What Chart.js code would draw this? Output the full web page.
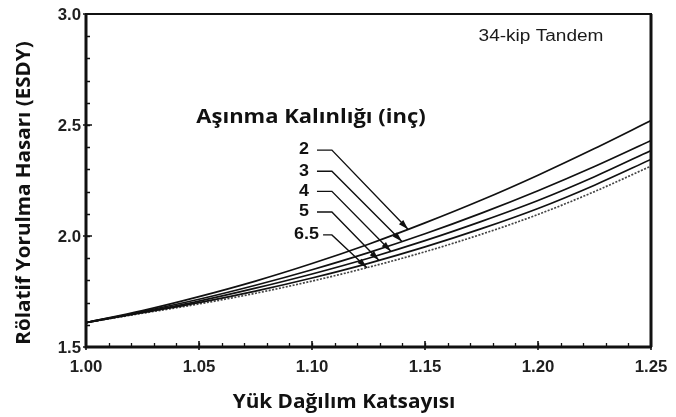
<!DOCTYPE html>
<html>
<head>
<meta charset="utf-8">
<script src="https://cdn.jsdelivr.net/npm/chart.js@4.4.1/dist/chart.umd.min.js"></script>
<style>
  html, body { margin: 0; padding: 0; background: #fff; }
  canvas { display: block; }
</style>
</head>
<body>
<canvas id="chart" width="676" height="417"></canvas>
<script>
// Load distribution factor (x) and relative fatigue damage (ESDY) per overlay thickness
const loadFactor = [1.00, 1.025, 1.05, 1.075, 1.10, 1.125, 1.15, 1.175, 1.20, 1.225, 1.25];
const esdy2   = [1.61, 1.664, 1.727, 1.797, 1.876, 1.963, 2.059, 2.162, 2.274, 2.394, 2.520];
const esdy3   = [1.61, 1.660, 1.715, 1.778, 1.848, 1.925, 2.010, 2.103, 2.204, 2.313, 2.430];
const esdy4   = [1.61, 1.657, 1.707, 1.765, 1.829, 1.900, 1.979, 2.066, 2.160, 2.267, 2.385];
const esdy5   = [1.61, 1.655, 1.700, 1.752, 1.811, 1.877, 1.951, 2.033, 2.124, 2.229, 2.345];
const esdy65  = [1.61, 1.652, 1.694, 1.742, 1.797, 1.859, 1.929, 2.008, 2.097, 2.200, 2.315];
const thicknessLabels = ['2', '3', '4', '5', '6.5'];
const xTickValues = [1.00, 1.05, 1.10, 1.15, 1.20, 1.25];
const xTickLabels = ['1.00', '1.05', '1.10', '1.15', '1.20', '1.25'];
const yTickValues = [1.5, 2.0, 2.5, 3.0];
const yTickLabels = ['1.5', '2.0', '2.5', '3.0'];

const series = [esdy2, esdy3, esdy4, esdy5, esdy65];

// Leader callouts: where each arrow lands on its curve, and the level of its label (data units)
const callouts = [
  { tipX: 1.1425, labelY: 2.387 },
  { tipX: 1.1398, labelY: 2.292 },
  { tipX: 1.1349, labelY: 2.201 },
  { tipX: 1.1296, labelY: 2.108 },
  { tipX: 1.1243, labelY: 2.005 }
];
const calloutTextRight = [1.0987, 1.0987, 1.0987, 1.0987, 1.1031];
const calloutDashStart = [1.1022, 1.1022, 1.1022, 1.1022, 1.1049];
const calloutKnee = 1.1088;

function valueAt(arr, x) {
  for (let i = 0; i < loadFactor.length - 1; i++) {
    const a = loadFactor[i], b = loadFactor[i + 1];
    if (x >= a && x <= b) {
      const t = (x - a) / (b - a);
      return arr[i] + t * (arr[i + 1] - arr[i]);
    }
  }
  return arr[arr.length - 1];
}

function drawText(ctx, text, x, y, font, align, sx) {
  ctx.save();
  ctx.font = font;
  ctx.textAlign = align;
  ctx.textBaseline = 'middle';
  ctx.translate(x, y);
  ctx.scale(sx, 1);
  ctx.fillText(text, 0, 0);
  ctx.restore();
}

const TICK_FONT = 'bold 16px "Liberation Sans", Arial, sans-serif';
const TITLE_FONT = 'bold 20px "Open Sans", sans-serif';

const framePlugin = {
  id: 'frame',
  afterDatasetsDraw(chart) {
    const { ctx, chartArea: a, scales: { x, y } } = chart;
    ctx.save();
    ctx.strokeStyle = '#111';
    ctx.fillStyle = '#111';

    // minor ticks inside the frame
    ctx.lineWidth = 1.3;
    ctx.beginPath();
    for (let v = 1.01; v < 1.2451; v += 0.01) {
      const px = Math.round(x.getPixelForValue(v)) + 0.5;
      ctx.moveTo(px, a.bottom);
      ctx.lineTo(px, a.bottom - 4);
    }
    for (let v = 1.6; v < 2.951; v += 0.1) {
      const py = Math.round(y.getPixelForValue(v)) + 0.5;
      ctx.moveTo(a.left, py);
      ctx.lineTo(a.left + 4, py);
    }
    ctx.stroke();

    // major ticks crossing the axes
    ctx.lineWidth = 1.6;
    ctx.beginPath();
    xTickValues.forEach(v => {
      const px = x.getPixelForValue(v);
      ctx.moveTo(px, a.bottom + 3);
      ctx.lineTo(px, a.bottom - 6);
    });
    yTickValues.forEach(v => {
      const py = y.getPixelForValue(v);
      ctx.moveTo(a.left - 3, py);
      ctx.lineTo(a.left + 6, py);
    });
    ctx.stroke();

    // frame
    ctx.lineWidth = 2;
    ctx.strokeRect(a.left, a.top, a.right - a.left, a.bottom - a.top);
    ctx.lineWidth = 3;
    ctx.beginPath();
    ctx.moveTo(a.left, a.top);
    ctx.lineTo(a.left, a.bottom);
    ctx.lineTo(a.right, a.bottom);
    ctx.moveTo(a.right, a.top);
    ctx.lineTo(a.right, a.bottom);
    ctx.stroke();

    // tick labels
    ctx.fillStyle = '#1f1f1f';
    xTickValues.forEach((v, i) => {
      drawText(ctx, xTickLabels[i], x.getPixelForValue(v), a.bottom + 21, TICK_FONT, 'center', 1.05);
    });
    yTickValues.forEach((v, i) => {
      drawText(ctx, yTickLabels[i], a.left - 5, y.getPixelForValue(v) + 2, TICK_FONT, 'right', 1.05);
    });

    // axis titles
    ctx.fillStyle = '#111';
    drawText(ctx, 'Yük Dağılım Katsayısı', 344, 402, TITLE_FONT, 'center', 1.04);
    ctx.save();
    ctx.translate(24, 193);
    ctx.rotate(-Math.PI / 2);
    drawText(ctx, 'Rölatif Yorulma Hasarı (ESDY)', 0, 0, TITLE_FONT, 'center', 1.03);
    ctx.restore();

    // annotations
    ctx.fillStyle = '#1a1a1a';
    drawText(ctx, '34-kip Tandem', 541, 37, '16px "Liberation Sans", Arial, sans-serif', 'center', 1.19);
    ctx.fillStyle = '#111';
    drawText(ctx, 'Aşınma Kalınlığı (inç)', 311, 117, TITLE_FONT, 'center', 1.1);

    // thickness callouts with leader arrows
    callouts.forEach((c, i) => {
      const ly = y.getPixelForValue(c.labelY);
      drawText(ctx, thicknessLabels[i], x.getPixelForValue(calloutTextRight[i]), ly, 'bold 16px "Liberation Sans", Arial, sans-serif', 'right', 1.12);
      const tx = x.getPixelForValue(c.tipX);
      const ty = y.getPixelForValue(valueAt(series[i], c.tipX));
      const kx = x.getPixelForValue(calloutKnee);
      ctx.lineWidth = 1.4;
      ctx.beginPath();
      ctx.moveTo(x.getPixelForValue(calloutDashStart[i]), ly);
      ctx.lineTo(kx, ly);
      ctx.lineTo(tx, ty);
      ctx.stroke();
      const ang = Math.atan2(ty - ly, tx - kx);
      const len = 10, hw = 3;
      ctx.beginPath();
      ctx.moveTo(tx, ty);
      ctx.lineTo(tx - len * Math.cos(ang) + hw * Math.sin(ang), ty - len * Math.sin(ang) - hw * Math.cos(ang));
      ctx.lineTo(tx - len * Math.cos(ang) - hw * Math.sin(ang), ty - len * Math.sin(ang) + hw * Math.cos(ang));
      ctx.closePath();
      ctx.fill();
    });
    ctx.restore();
  }
};

const styles = [
  { color: '#111', dash: [] },
  { color: '#111', dash: [] },
  { color: '#111', dash: [] },
  { color: '#111', dash: [] },
  { color: '#444', dash: [2, 1.5] }
];

new Chart(document.getElementById('chart'), {
  type: 'line',
  data: {
    datasets: series.map((arr, i) => ({
      label: thicknessLabels[i],
      data: loadFactor.map((xv, j) => ({ x: xv, y: arr[j] })),
      borderColor: styles[i].color,
      borderDash: styles[i].dash,
      borderWidth: 1.7,
      pointRadius: 0,
      cubicInterpolationMode: 'monotone',
      fill: false
    }))
  },
  options: {
    responsive: false,
    animation: false,
    layout: { padding: { left: 86, right: 25, top: 14, bottom: 70 } },
    plugins: { legend: { display: false }, tooltip: { enabled: false } },
    scales: {
      x: { type: 'linear', min: 1.0, max: 1.25, display: false },
      y: { type: 'linear', min: 1.5, max: 3.0, display: false }
    }
  },
  plugins: [framePlugin]
});
</script>
</body>
</html>
